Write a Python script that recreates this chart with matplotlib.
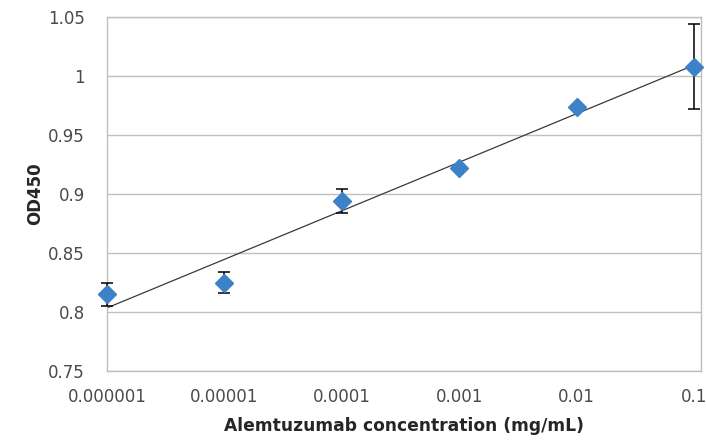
import matplotlib
matplotlib.use("Agg")
import matplotlib.pyplot as plt
import numpy as np

plt.rcParams['font.family'] = ['DejaVu Sans']

# data
conc = [1e-6, 1e-5, 1e-4, 1e-3, 1e-2, 1e-1]
tick_labels = ["0.000001", "0.00001", "0.0001", "0.001", "0.01", "0.1"]
od450 = [0.815, 0.825, 0.894, 0.922, 0.974, 1.008]
err = [0.0095, 0.009, 0.0105, 0.0, 0.0, 0.036]
y_ticks = [0.75, 0.8, 0.85, 0.9, 0.95, 1.0, 1.05]
y_tick_labels = ["0.75", "0.8", "0.85", "0.9", "0.95", "1", "1.05"]

fig = plt.figure(figsize=(7.06, 4.41), dpi=100)
ax = fig.add_axes([0.1516, 0.1587, 0.8414, 0.8028])

# logarithmic trendline (Excel style)
slope, intercept = np.polyfit(np.log10(conc), od450, 1)
xl = np.array([conc[0], conc[-1]])
ax.plot(xl, slope * np.log10(xl) + intercept, color="#3a3a3a", lw=0.9, zorder=2)

ax.errorbar(conc, od450, yerr=err, fmt="none", ecolor="black", elinewidth=1.1,
            capsize=4, capthick=1.1, zorder=3, clip_on=False)
ax.plot(conc, od450, "D", color="#3b82c8", markersize=9, mec="#3b82c8",
        zorder=4, clip_on=False)

ax.set_xscale("log")
ax.set_xlim(1e-6, 0.1 * 10 ** 0.06)
ax.set_ylim(0.75, 1.05)
ax.set_xticks(conc)
ax.set_xticklabels(tick_labels)
ax.minorticks_off()
ax.set_yticks(y_ticks)
ax.set_yticklabels(y_tick_labels)
ax.tick_params(axis="y", length=0, labelsize=12, colors="#4a4a4a", pad=16)
ax.tick_params(axis="x", length=0, labelsize=12, colors="#4a4a4a", pad=12)

ax.grid(axis="y", color="#c0c0c0", lw=1)
ax.set_axisbelow(True)
for s in ax.spines.values():
    s.set_color("#bfbfbf")
    s.set_linewidth(1)

ax.set_xlabel("Alemtuzumab concentration (mg/mL)", fontsize=12.3,
              fontweight="bold", color="#262626", labelpad=8)
ax.set_ylabel("OD450", fontsize=12, fontweight="bold", color="#262626", labelpad=3)

fig.savefig("out.png", dpi=100)
